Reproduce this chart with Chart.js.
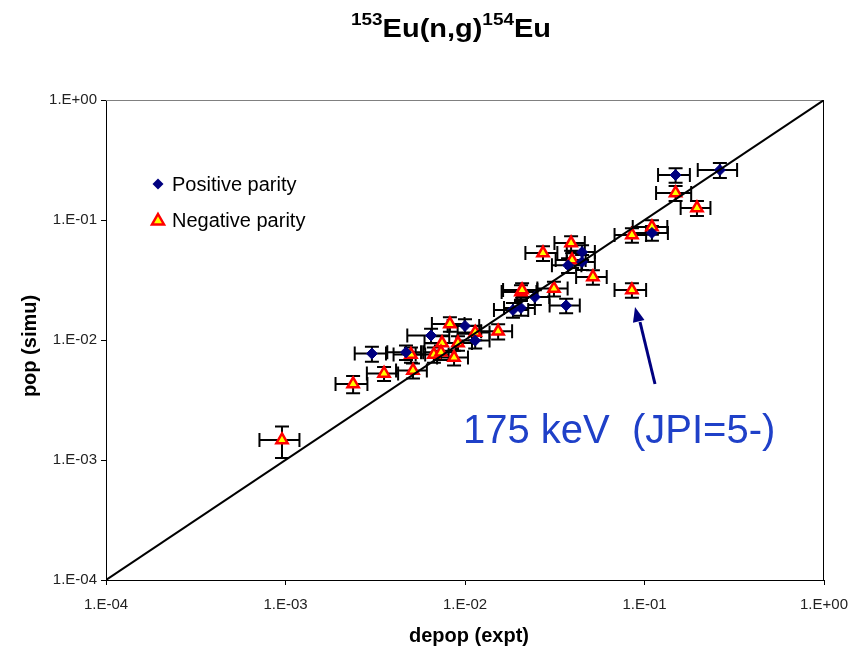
<!DOCTYPE html>
<html>
<head>
<meta charset="utf-8">
<title>153Eu(n,g)154Eu</title>
<script src="https://cdn.jsdelivr.net/npm/chart.js@4"></script>
<style>
  html, body { margin: 0; padding: 0; background: #fff; }
  #wrap { width: 866px; height: 654px; }
</style>
</head>
<body>
<div id="wrap"><canvas id="popChart" width="866" height="654"></canvas></div>
<script>
// decade ticks on both axes
var tickValues = [1e-4, 1e-3, 1e-2, 1e-1, 1];

// positive parity levels: depop (expt) vs pop (simu)
var posX    = [0.263, 0.149, 0.110, 0.0449, 0.0449, 0.0375, 0.0366, 0.0245, 0.0185, 0.0205, 0.0100, 0.00647, 0.0114, 0.00303, 0.00469];
var posY    = [0.261, 0.237, 0.078, 0.054, 0.0447, 0.042, 0.0194, 0.0228, 0.0178, 0.0185, 0.0131, 0.0109, 0.0099, 0.0077, 0.0079];
var posXErr = [0.065, 0.030, 0.025, 0.008, 0.008, 0.007, 0.007, 0.005, 0.004, 0.004, 0.002, 0.0017, 0.0023, 0.0006, 0.001];
var posYErr = [0.037, 0.033, 0.011, 0.0075, 0.0063, 0.0059, 0.0027, 0.0032, 0.0025, 0.0026, 0.0018, 0.0015, 0.0014, 0.0011, 0.0011];

// negative parity levels
var negX    = [0.149, 0.196, 0.110, 0.0851, 0.039, 0.0272, 0.0395, 0.0516, 0.0313, 0.0205, 0.0208, 0.0851, 0.00824, 0.0114, 0.0153,
               0.00745, 0.00914, 0.0050, 0.00671, 0.00735, 0.00869, 0.00513, 0.00354, 0.00238, 0.000956];
var negY    = [0.168, 0.126, 0.0875, 0.075, 0.0643, 0.053, 0.0464, 0.0335, 0.0268, 0.0251, 0.0261, 0.0261, 0.0136, 0.01155, 0.0118,
               0.00944, 0.00944, 0.00757, 0.00757, 0.0079, 0.00714, 0.00557, 0.00526, 0.0043, 0.00147];
var negXErr = [0.033, 0.037, 0.024, 0.017, 0.0075, 0.0055, 0.0075, 0.010, 0.006, 0.0045, 0.0045, 0.017, 0.0017, 0.0023, 0.003,
               0.0015, 0.0018, 0.001, 0.0014, 0.0015, 0.0017, 0.001, 0.0007, 0.00048, 0.00024];
var negYErr = [0.024, 0.018, 0.012, 0.0105, 0.009, 0.0074, 0.0065, 0.0047, 0.0038, 0.0035, 0.0036, 0.0036, 0.0019, 0.0016, 0.0017,
               0.0013, 0.0013, 0.0011, 0.0011, 0.0011, 0.001, 0.0008, 0.0007, 0.0007, 0.00043];

// y = x reference line
var diagX = [1e-4, 1];

function toPoints(xs, ys) {
  return xs.map(function (v, i) { return { x: v, y: ys[i] }; });
}

// 1e-3 -> "1.E-03"
function fmtTick(v) {
  var e = Math.round(Math.log10(v));
  return '1.E' + (e < 0 ? '-' : '+') + String(Math.abs(e)).padStart(2, '0');
}

var FONT = 'Arial, "Liberation Sans", sans-serif';

var overlay = {
  id: 'overlay',
  beforeDatasetsDraw: function (chart) {
    var ctx = chart.ctx, xs = chart.scales.x, ys = chart.scales.y, a = chart.chartArea;
    ctx.save();
    // frame: grey top, black right
    ctx.lineWidth = 1;
    ctx.strokeStyle = '#808080';
    ctx.beginPath(); ctx.moveTo(a.left, a.top + 0.5); ctx.lineTo(a.right, a.top + 0.5); ctx.stroke();
    ctx.strokeStyle = '#000';
    ctx.beginPath(); ctx.moveTo(a.right - 0.5, a.top); ctx.lineTo(a.right - 0.5, a.bottom); ctx.stroke();

    // error bars
    ctx.lineWidth = 2;
    ctx.strokeStyle = '#000';
    var cap = 7;
    function bars(X, Y, XE, YE) {
      for (var i = 0; i < X.length; i++) {
        var px = xs.getPixelForValue(X[i]), py = ys.getPixelForValue(Y[i]);
        var l = xs.getPixelForValue(X[i] - XE[i]), r = xs.getPixelForValue(X[i] + XE[i]);
        var t = ys.getPixelForValue(Y[i] + YE[i]), b = ys.getPixelForValue(Y[i] - YE[i]);
        ctx.beginPath();
        ctx.moveTo(l, py); ctx.lineTo(r, py);
        ctx.moveTo(l, py - cap); ctx.lineTo(l, py + cap);
        ctx.moveTo(r, py - cap); ctx.lineTo(r, py + cap);
        ctx.moveTo(px, t); ctx.lineTo(px, b);
        ctx.moveTo(px - cap, t); ctx.lineTo(px + cap, t);
        ctx.moveTo(px - cap, b); ctx.lineTo(px + cap, b);
        ctx.stroke();
      }
    }
    bars(posX, posY, posXErr, posYErr);
    bars(negX, negY, negXErr, negYErr);
    ctx.restore();
  },
  afterDraw: function (chart) {
    var ctx = chart.ctx;
    ctx.save();
    ctx.fillStyle = '#000';

    // title with superscripts, stretched to the reference width
    var parts = [['153', 17, -12], ['Eu(n,g)', 26, 0], ['154', 17, -12], ['Eu', 26, 0]];
    var total = 0;
    parts.forEach(function (p) { ctx.font = 'bold ' + p[1] + 'px ' + FONT; total += ctx.measureText(p[0]).width; });
    var targetW = 200, sx = targetW / total;
    ctx.translate(451 - targetW / 2, 37);
    ctx.scale(sx, 1);
    ctx.textBaseline = 'alphabetic';
    ctx.textAlign = 'left';
    var cx = 0;
    parts.forEach(function (p) {
      ctx.font = 'bold ' + p[1] + 'px ' + FONT;
      ctx.fillText(p[0], cx, p[2]);
      cx += ctx.measureText(p[0]).width;
    });
    ctx.setTransform(1, 0, 0, 1, 0, 0);

    // axis titles
    ctx.font = 'bold 20px ' + FONT;
    ctx.textAlign = 'center';
    ctx.textBaseline = 'middle';
    ctx.fillText('depop (expt)', 469, 636);
    ctx.save();
    ctx.translate(30, 346);
    ctx.rotate(-Math.PI / 2);
    ctx.fillText('pop (simu)', 0, 0);
    ctx.restore();

    // legend
    ctx.textAlign = 'left';
    ctx.font = '20px ' + FONT;
    ctx.fillStyle = '#000080';
    ctx.beginPath();
    ctx.moveTo(158, 178.5); ctx.lineTo(163.5, 184); ctx.lineTo(158, 189.5); ctx.lineTo(152.5, 184);
    ctx.closePath(); ctx.fill();
    ctx.beginPath();
    ctx.moveTo(158, 214); ctx.lineTo(164, 224.5); ctx.lineTo(152, 224.5);
    ctx.closePath();
    ctx.fillStyle = '#ffff00'; ctx.fill();
    ctx.lineWidth = 2.5; ctx.strokeStyle = '#ff0000'; ctx.stroke();
    ctx.fillStyle = '#000';
    ctx.fillText('Positive parity', 172, 185);
    ctx.fillText('Negative parity', 172, 221);

    // annotation and arrow
    ctx.fillStyle = '#1f40c8';
    ctx.font = '40px ' + FONT;
    ctx.textBaseline = 'alphabetic';
    ctx.fillText('175 keV  (JPI=5-)', 463, 443);

    ctx.strokeStyle = '#000080';
    ctx.fillStyle = '#000080';
    ctx.lineWidth = 3;
    ctx.beginPath(); ctx.moveTo(655, 384); ctx.lineTo(640, 322); ctx.stroke();
    var ang = Math.atan2(307 - 384, 635 - 655);
    ctx.beginPath();
    ctx.moveTo(635, 307);
    ctx.lineTo(635 - 16 * Math.cos(ang - 0.38), 307 - 16 * Math.sin(ang - 0.38));
    ctx.lineTo(635 - 16 * Math.cos(ang + 0.38), 307 - 16 * Math.sin(ang + 0.38));
    ctx.closePath(); ctx.fill();
    ctx.restore();
  }
};

var axisCommon = {
  type: 'logarithmic',
  min: 1e-4,
  max: 1,
  grid: { display: true, drawOnChartArea: false, drawTicks: true, tickLength: 5, color: '#000' },
  border: { display: true, color: '#000', width: 1 },
  afterBuildTicks: function (s) { s.ticks = tickValues.map(function (v) { return { value: v }; }); },
  ticks: {
    autoSkip: false,
    maxRotation: 0,
    color: '#222',
    font: { family: FONT, size: 15 },
    callback: function (v) { return fmtTick(v); }
  }
};

new Chart(document.getElementById('popChart').getContext('2d'), {
  type: 'scatter',
  data: {
    datasets: [
      {
        type: 'line',
        data: toPoints(diagX, diagX),
        borderColor: '#000',
        borderWidth: 2,
        pointRadius: 0,
        fill: false
      },
      {
        label: 'Positive parity',
        data: toPoints(posX, posY),
        pointStyle: 'rectRot',
        pointRadius: 5.5,
        backgroundColor: '#000080',
        borderColor: '#000080',
        borderWidth: 1
      },
      {
        label: 'Negative parity',
        data: toPoints(negX, negY),
        pointStyle: 'triangle',
        pointRadius: 6.5,
        backgroundColor: '#ffff00',
        borderColor: '#ff0000',
        borderWidth: 2.5
      }
    ]
  },
  options: {
    responsive: false,
    animation: false,
    layout: { padding: { top: 100, right: 42, left: 0, bottom: 0 } },
    plugins: { legend: { display: false }, tooltip: { enabled: false }, title: { display: false } },
    scales: {
      x: Object.assign({}, axisCommon, {
        position: 'bottom',
        afterFit: function (s) { s.height = 74; },
        ticks: Object.assign({}, axisCommon.ticks, { padding: 11 })
      }),
      y: Object.assign({}, axisCommon, {
        position: 'left',
        afterFit: function (s) { s.width = 106; },
        ticks: Object.assign({}, axisCommon.ticks, { padding: 4 })
      })
    }
  },
  plugins: [overlay]
});
</script>
</body>
</html>
